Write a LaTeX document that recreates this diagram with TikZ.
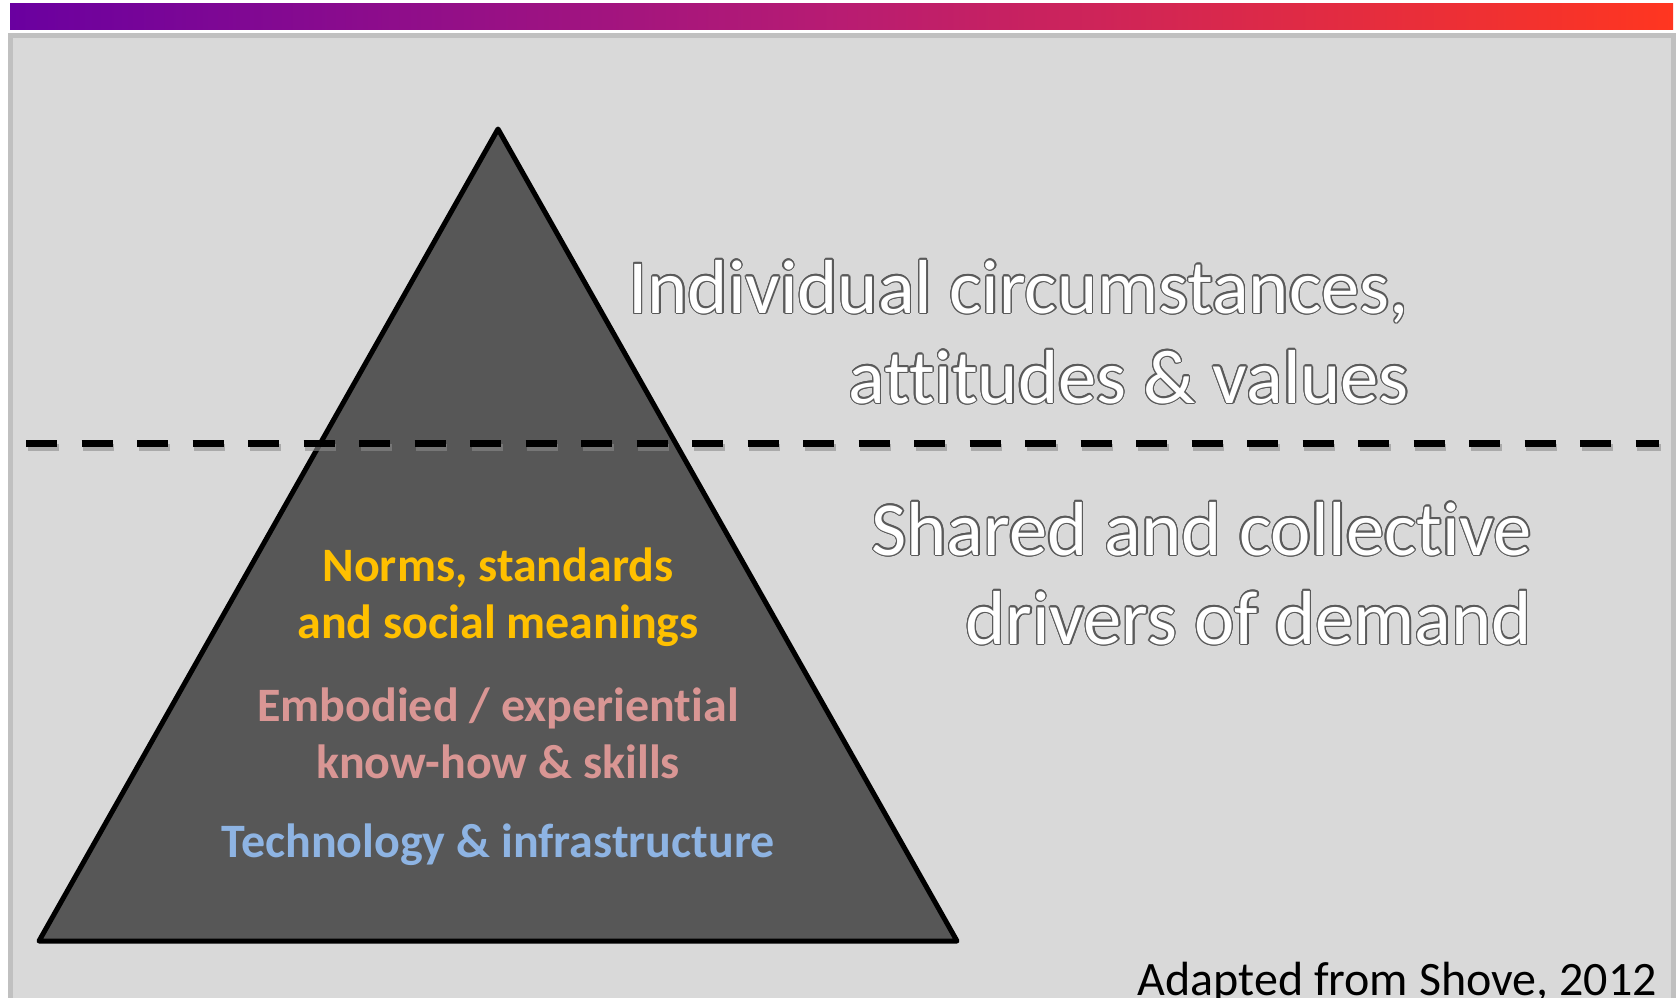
\documentclass[tikz,border=0pt]{standalone}
\usepackage{fontspec}
\setmainfont{Carlito}[Ligatures={NoCommon}]
\definecolor{panelfill}{HTML}{D9D9D9}
\definecolor{panelline}{HTML}{C0C0C0}
\definecolor{trifill}{HTML}{575757}
\definecolor{olc}{HTML}{5A5A5A}
\definecolor{gleft}{HTML}{6A00A0}
\definecolor{gmid}{HTML}{B81C72}
\definecolor{gright}{HTML}{FF3620}
\definecolor{normc}{HTML}{FFC000}
\definecolor{embc}{HTML}{D99694}
\definecolor{techc}{HTML}{8EB4E3}
\tikzset{
  bigtxt/.style={inner sep=0pt, font=\fontsize{76.5}{90}\selectfont},
  intxt/.style={inner sep=0pt, font=\fontsize{48}{57}\selectfont\bfseries, anchor=base},
  srctxt/.style={inner sep=0pt, font=\fontsize{48}{55}\selectfont, anchor=base east},
}
\newcommand\olnode[4]{% name, coordinate (no parens), anchor, text
  \foreach \a in {0,22.5,...,337.5}
    \node[bigtxt,text=olc,anchor=#3] at ([shift={(\a:1.4)}]#2) {#4};
  \node[bigtxt,text=white,anchor=#3] (#1) at (#2) {#4};}
\begin{document}
\begin{tikzpicture}[x=1pt,y=-1pt]
\useasboundingbox (0,0) rectangle (1679,998);
\fill[white] (0,0) rectangle (1679,998);
% gradient bar
\shade[left color=gleft, right color=gright, middle color=gmid] (10,4) rectangle (1673,30);
% panel
\draw[panelline, fill=panelfill, line width=5pt] (10.5,35.5) rectangle (1673.5,1012);
% triangle
\coordinate (apex) at (498,129);
\coordinate (bl) at (39,941);
\coordinate (br) at (957,941);
\draw[fill=trifill, line width=5pt, line join=round] (apex) -- (bl) -- (br) -- cycle;
% dashed line with shadow
\coordinate (dl) at (26,443.5);
\coordinate (dr) at (1659,443.5);
\draw[black!45, opacity=0.6, line width=7pt, dash pattern=on 31pt off 24.5pt] ([shift={(1.5,4)}]dl) -- ([shift={(1.5,4)}]dr);
\draw[black, line width=7pt, dash pattern=on 31pt off 24.5pt] (dl) -- (dr);
% outlined texts
\olnode{ic1}{1409,313}{base east}{Individual circumstances,}
\olnode{ic2}{1409,403}{base east}{attitudes \& values}
\olnode{sc1}{1532,555}{base east}{Shared and collective}
\olnode{sc2}{1532,644}{base east}{drivers of demand}
% inner texts
\node[intxt, text=normc] (n1) at (498,581) {Norms, standards};
\node[intxt, text=normc] (n2) at (498,638) {and social meanings};
\node[intxt, text=embc] (e1) at (498,721) {Embodied / experiential};
\node[intxt, text=embc] (e2) at (498,778) {know-how \& skills};
\node[intxt, text=techc] (t1) at (498,857) {Technology \& infrastructure};
% source
\node[srctxt] (src) at (1657,995) {Adapted from Shove, 2012};
\end{tikzpicture}
\end{document}
